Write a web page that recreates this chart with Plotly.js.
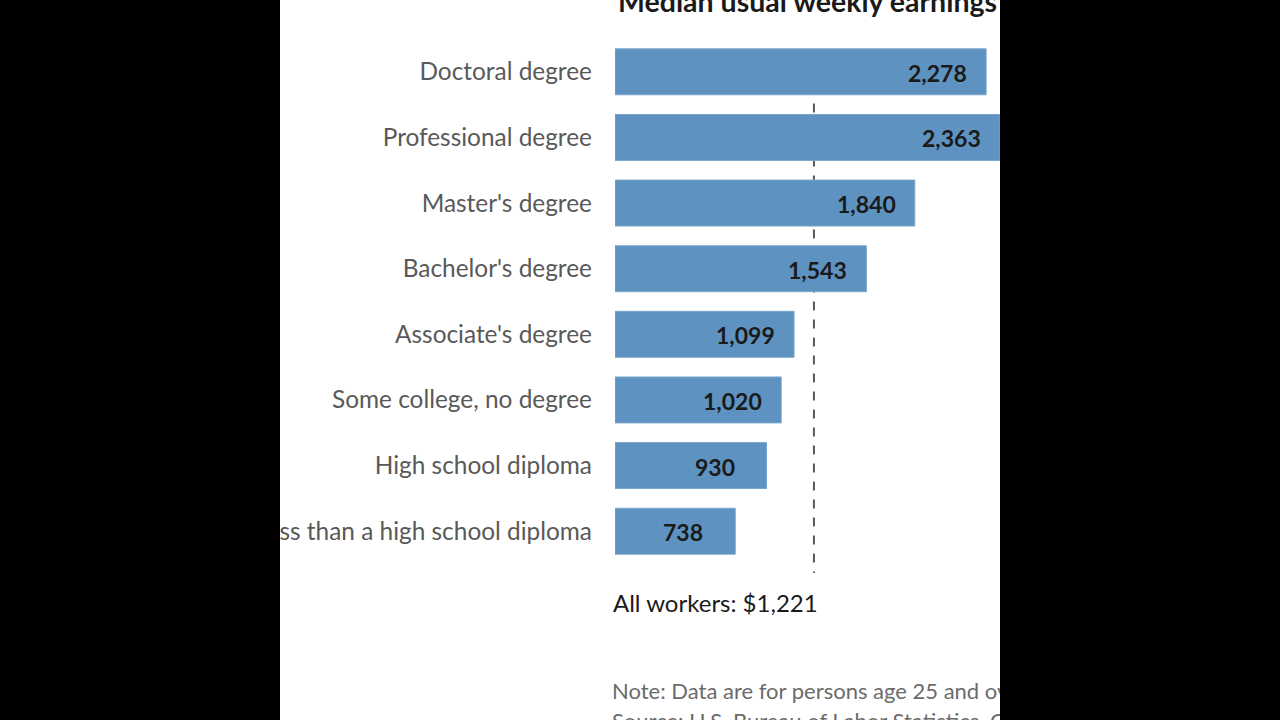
<!DOCTYPE html>
<html>
<head>
<meta charset="utf-8">
<script src="https://cdn.plot.ly/plotly-3.0.1.min.js"></script>
<style>
html, body { margin:0; padding:0; background:#000; width:1280px; height:720px; overflow:hidden; }
#panel { position:absolute; left:280px; top:0; width:720px; height:720px; background:#fff; overflow:hidden; }
#chart { width:720px; height:720px; }
</style>
</head>
<body>
<div id="panel"><div id="chart"></div></div>
<script>
const categories = ["Doctoral degree", "Professional degree", "Master's degree", "Bachelor's degree",
  "Associate's degree", "Some college, no degree", "High school diploma", "Less than a high school diploma"];
const earnings = [2278, 2363, 1840, 1543, 1099, 1020, 930, 738];
const allWorkers = 1221;
const titleText = "Median usual weekly earnings ($)";
const allWorkersText = "All workers: $1,221";
const noteText = "Note: Data are for persons age 25 and over. Earnings are for full-time wage and salary workers.";
const sourceText = "Source: U.S. Bureau of Labor Statistics, Current Population Survey.";

const FONT = "Lato, 'Open Sans', sans-serif";

const trace = {
  type: 'bar', orientation: 'h',
  x: earnings, y: categories,
  marker: { color: '#5e92c0', line: { color: '#7aa6cc', width: 1 } },
  width: 0.7, hoverinfo: 'none', cliponaxis: false
};

const annotations = earnings.map((v, i) => ({
  x: v, y: categories[i], xref: 'x', yref: 'y',
  text: v.toLocaleString('en-US'), showarrow: false,
  xanchor: 'right', xshift: v < 1000 ? -30 : -17, yshift: -1,
  font: { family: FONT, size: 23, color: '#1a1a1a', weight: 'bold' }
}));

annotations.push({
  xref: 'paper', yref: 'paper', x: 0, xshift: 1, y: 1.072, yanchor: 'middle', xanchor: 'left',
  text: '<b>' + titleText + '</b>', showarrow: false,
  font: { family: FONT, size: 28.5, color: '#1a1a1a' }
});
annotations.push({
  xref: 'paper', yref: 'paper', x: 0, xshift: -4, y: -0.074, yanchor: 'middle', xanchor: 'left',
  text: allWorkersText, showarrow: false,
  font: { family: FONT, size: 24, color: '#1a1a1a' }
});
annotations.push({
  xref: 'paper', yref: 'paper', x: 0, xshift: -5, y: -0.24, yanchor: 'middle', xanchor: 'left',
  text: noteText, showarrow: false,
  font: { family: FONT, size: 22, color: '#6b6b6b' }
});
annotations.push({
  xref: 'paper', yref: 'paper', x: 0, xshift: -5, y: -0.298, yanchor: 'middle', xanchor: 'left',
  text: sourceText, showarrow: false,
  font: { family: FONT, size: 22, color: '#6b6b6b' }
});

const layout = {
  width: 720, height: 720,
  margin: { l: 335, r: 0, t: 39, b: 156, pad: 0 },
  paper_bgcolor: '#fff', plot_bgcolor: '#fff',
  showlegend: false,
  xaxis: { range: [0, 2363], visible: false, fixedrange: true },
  yaxis: {
    type: 'category', range: [7.5, -0.5], autorange: false, automargin: false,
    showgrid: false, zeroline: false, showline: false, ticks: '',
    ticklabelstandoff: 22,
    tickfont: { family: FONT, size: 24.4, color: '#595959' }
  },
  shapes: [{
    type: 'line', layer: 'below', xref: 'x', yref: 'paper',
    x0: allWorkers, x1: allWorkers, y0: 0.98, y1: -0.017,
    line: { color: '#595959', width: 2, dash: 'dash' }
  }],
  annotations: annotations
};

Plotly.newPlot('chart', [trace], layout, { staticPlot: true, displayModeBar: false });
</script>
</body>
</html>
